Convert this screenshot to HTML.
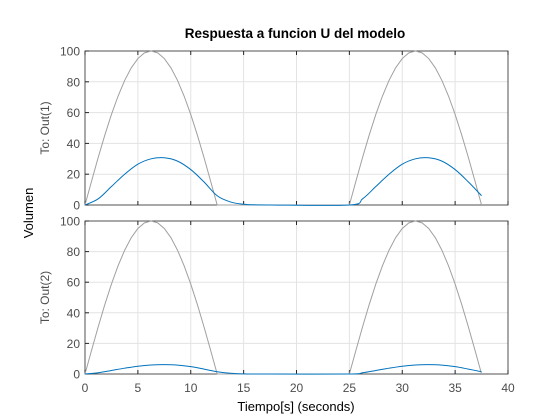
<!DOCTYPE html>
<html><head><meta charset="utf-8"><style>
html,body{margin:0;padding:0;background:#fff}
svg{display:block;font-family:"Liberation Sans",Arial,sans-serif}
</style></head><body>
<svg id="chart" width="560" height="420" viewBox="0 0 560 420">
<rect width="560" height="420" fill="#fff"/>
<text x="295" y="38" font-size="13.5" font-weight="bold" text-anchor="middle" fill="#000">Respuesta a funcion U del modelo</text>
<text transform="translate(33,213) rotate(-90)" font-size="13" text-anchor="middle" fill="#000">Volumen</text>
<text x="296" y="411" font-size="13" text-anchor="middle" fill="#000">Tiempo[s] (seconds)</text>
<g id="plots"></g>
</svg>
<script>
const xTicks = [0,5,10,15,20,25,30,35,40];
const yTicks = [0,20,40,60,80,100];
const xTickLabels = ["0","5","10","15","20","25","30","35","40"];
const yTickLabels = ["0","20","40","60","80","100"];
const inputT = [0,0.625,1.25,1.875,2.5,3.125,3.75,4.375,5,5.625,6.25,6.875,7.5,8.125,8.75,9.375,10,10.625,11.25,11.875,12.5,25,25.625,26.25,26.875,27.5,28.125,28.75,29.375,30,30.625,31.25,31.875,32.5,33.125,33.75,34.375,35,35.625,36.25,36.875,37.5];
const inputU = [0,15.6,30.9,45.4,58.8,70.7,80.9,89.1,95.1,98.8,100,98.8,95.1,89.1,80.9,70.7,58.8,45.4,30.9,15.6,0,0,15.6,30.9,45.4,58.8,70.7,80.9,89.1,95.1,98.8,100,98.8,95.1,89.1,80.9,70.7,58.8,45.4,30.9,15.6,0];
const respT = [0,1.25,2.5,3.75,5,6.25,7.5,8.75,10,11.25,12.5,13.75,15,16.25,17.5,25,26.25,27.5,28.75,30,31.25,32.5,33.75,35,36.25,37.5];
const out1 = [0,4,12,20,26.5,30,30.7,28.5,23,15,6,2,0.5,0.1,0,0,4,12,20,26.5,30,30.7,28.5,23,15,6];
const out2 = [0,0.8,2.3,3.8,5.1,5.9,6.1,5.8,4.8,3.2,1.5,0.5,0.1,0,0,0,0.8,2.3,3.8,5.1,5.9,6.1,5.8,4.8,3.2,1.5];
const panels = [{name:"out1",label:"To: Out(1)",top:51,bottom:205,data:out1,showX:false},
                {name:"out2",label:"To: Out(2)",top:221,bottom:374,data:out2,showX:true}];
const L=85,R=508;
const NS="http://www.w3.org/2000/svg";
const g=document.getElementById('plots');
function xs(t){return L+(t-0)/(40-0)*(R-L);}
function mk(tag,attrs,parent){const e=document.createElementNS(NS,tag);for(const k in attrs)e.setAttribute(k,attrs[k]);(parent||g).appendChild(e);return e;}
function smooth(pts){let d="M"+pts[0][0]+","+pts[0][1];
  for(let i=0;i<pts.length-1;i++){const p0=pts[Math.max(i-1,0)],p1=pts[i],p2=pts[i+1],p3=pts[Math.min(i+2,pts.length-1)];
    const c1=[p1[0]+(p2[0]-p0[0])/6,p1[1]+(p2[1]-p0[1])/6],c2=[p2[0]-(p3[0]-p1[0])/6,p2[1]-(p3[1]-p1[1])/6];
    d+=" C"+c1[0].toFixed(2)+","+c1[1].toFixed(2)+" "+c2[0].toFixed(2)+","+c2[1].toFixed(2)+" "+p2[0].toFixed(2)+","+p2[1].toFixed(2);}
  return d;}
panels.forEach(p=>{
  const ys=v=>p.bottom-(v/100)*(p.bottom-p.top);
  const grid=mk('g',{});
  
  
  xTicks.forEach((t,i)=>{
    if(i>0&&i<xTicks.length-1){const l=mk('line',{x1:xs(t),x2:xs(t),y1:p.top,y2:p.bottom,stroke:'#e3e3e3','stroke-width':1},grid);
      }
    const tk=mk('line',{x1:xs(t),x2:xs(t),y1:p.bottom,y2:p.bottom-4,stroke:'#262626','stroke-width':1});
    
    const tk2=mk('line',{x1:xs(t),x2:xs(t),y1:p.top,y2:p.top+4,stroke:'#262626','stroke-width':1});
    
    if(p.showX){const tx=mk('text',{x:xs(t),y:p.bottom+18,'font-size':12,'text-anchor':'middle',fill:'#4d4d4d'});
      tx.textContent=xTickLabels[i];}
  });
  yTicks.forEach((v,i)=>{
    if(i>0&&i<yTicks.length-1){const l=mk('line',{x1:L,x2:R,y1:ys(v),y2:ys(v),stroke:'#e3e3e3','stroke-width':1},grid);
      }
    const tk=mk('line',{x1:L,x2:L+4,y1:ys(v),y2:ys(v),stroke:'#262626','stroke-width':1});
    
    const tx=mk('text',{x:L-5,y:ys(v)+4.5,'font-size':12,'text-anchor':'end',fill:'#4d4d4d'});
    tx.textContent=yTickLabels[i];
  });
  const box=mk('rect',{x:L,y:p.top,width:R-L,height:p.bottom-p.top,fill:'none',stroke:'#262626','stroke-width':0.8});
  
  const yl=mk('text',{transform:'translate(49,'+((p.top+p.bottom)/2)+') rotate(-90)','font-size':12,'text-anchor':'middle',fill:'#4d4d4d'});
  yl.textContent=p.label;
  const gp=inputT.map((t,i)=>[xs(t),ys(inputU[i])]);
  const gl=mk('polyline',{points:gp.map(q=>q[0].toFixed(2)+','+q[1].toFixed(2)).join(' '),fill:'none',stroke:'#a0a0a0','stroke-width':1});
  
  const bp=respT.map((t,i)=>[xs(t),ys(p.data[i])]);
  const bl=mk('path',{d:smooth(bp),fill:'none',stroke:'#0072bd','stroke-width':1});
  
});
</script>
</body></html>
